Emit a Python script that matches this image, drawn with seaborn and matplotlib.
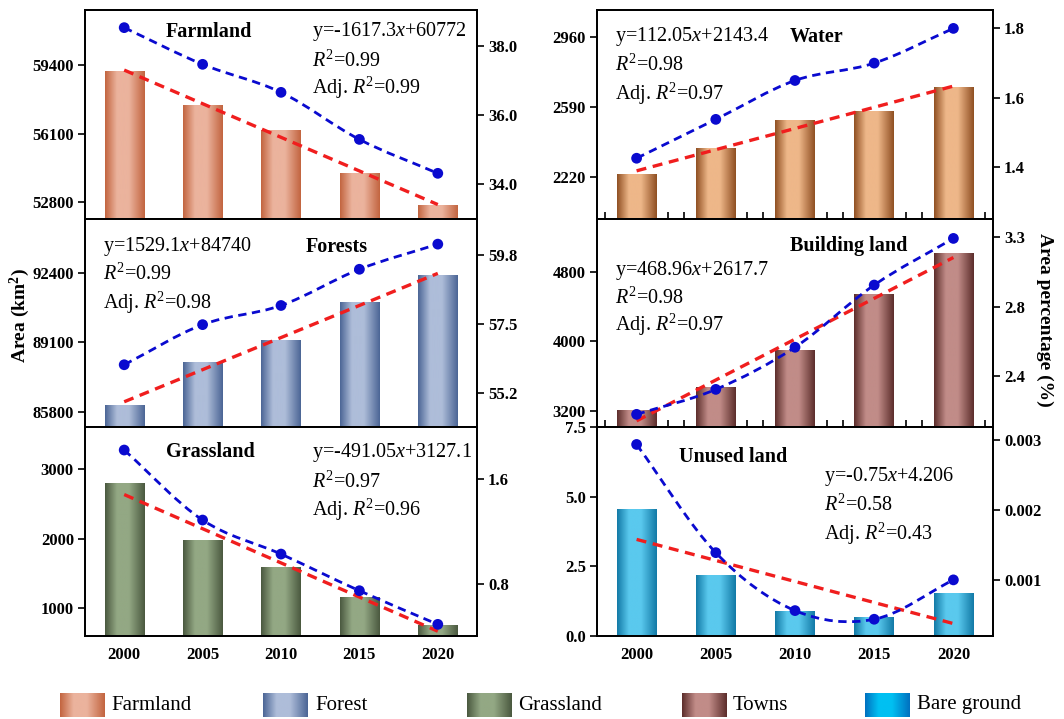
import numpy as np
import pandas as pd
import matplotlib
matplotlib.use("Agg")
import matplotlib.pyplot as plt
import seaborn as sns
from matplotlib.colors import LinearSegmentedColormap
from matplotlib.path import Path
from matplotlib.patches import PathPatch

# ==========================================
# DATA
# ==========================================
YEARS = ["2000", "2005", "2010", "2015", "2020"]

farmland_area = [59097, 57464, 56244, 54179, 52656]
farmland_pct = [38.53, 37.47, 36.66, 35.30, 34.32]

water_area = [2236, 2371, 2518, 2570, 2696]
water_pct = [1.426, 1.538, 1.650, 1.700, 1.800]

forest_area = [86086, 88127, 89162, 90969, 92271]
forest_pct = [56.13, 57.47, 58.11, 59.32, 60.16]

building_area = [3200, 3465, 3896, 4543, 5012]
building_pct = [2.179, 2.323, 2.566, 2.925, 3.194]

grass_area = [2795, 1976, 1584, 1148, 756]
grass_pct = [1.824, 1.289, 1.029, 0.749, 0.492]

unused_area = [4.55, 2.17, 0.87, 0.66, 1.53]
unused_pct = [0.00294, 0.00139, 0.00056, 0.000436, 0.00100]

panel_titles = ["Farmland", "Water", "Forests", "Building land", "Grassland", "Unused land"]
fit_equations = ["y=-1617.3$x$+60772", "y=112.05$x$+2143.4", "y=1529.1$x$+84740",
                 "y=468.96$x$+2617.7", "y=-491.05$x$+3127.1", "y=-0.75$x$+4.206"]
r2_values = ["0.99", "0.98", "0.99", "0.98", "0.97", "0.58"]
adj_r2_values = ["0.99", "0.97", "0.98", "0.97", "0.96", "0.43"]

legend_labels = ["Farmland", "Forest", "Grassland", "Towns", "Bare ground"]

# ==========================================
# STYLE / LAYOUT
# ==========================================
sns.set_theme(style="ticks")
plt.rcParams["font.family"] = ["Liberation Serif", "DejaVu Serif"]
plt.rcParams["mathtext.fontset"] = "custom"
plt.rcParams["mathtext.rm"] = "Liberation Serif"
plt.rcParams["mathtext.it"] = "Liberation Serif:italic"
plt.rcParams["mathtext.bf"] = "Liberation Serif:bold"
plt.rcParams["axes.edgecolor"] = "black"
plt.rcParams["axes.linewidth"] = 1.3
plt.rcParams["text.color"] = "black"
plt.rcParams["axes.labelcolor"] = "black"
plt.rcParams["xtick.color"] = "black"
plt.rcParams["ytick.color"] = "black"

W, H = 1064, 719
BLUE = "#0A0ACF"
RED = "#F01E1E"
COLS = [(85, 477), (597, 993)]
ROWS = [(10, 219), (219, 427), (427, 636)]

# per panel: data, colours (edge, centre), axis setup, text anchors (axes fraction)
PANELS = [
    dict(area=farmland_area, pct=farmland_pct, col=0, row=0, colors=("#C2643F", "#EBB39D"),
         ylim=(52000, 62050), yticks=[52800, 56100, 59400], yfmt="{:.0f}",
         ylim2=(33.0, 39.04), yticks2=[34, 36, 38], ylab2=None, yfmt2="{:.1f}",
         title_xy=(0.316, 0.895), eq_xy=(0.578, [0.895, 0.756, 0.627])),
    dict(area=water_area, pct=water_pct, col=1, row=0, colors=("#8F4F22", "#EEB789"),
         ylim=(2000, 3104), yticks=[2220, 2590, 2960], yfmt="{:.0f}",
         ylim2=(1.251, 1.853), yticks2=[1.4, 1.6, 1.8], ylab2=None, yfmt2="{:.1f}",
         title_xy=(0.555, 0.872), eq_xy=(0.045, [0.872, 0.737, 0.597])),
    dict(area=forest_area, pct=forest_pct, col=0, row=1, colors=("#4B6595", "#AEBDD9"),
         ylim=(85085, 94942), yticks=[85800, 89100, 92400], yfmt="{:.0f}",
         ylim2=(54.05, 61.0), yticks2=[55.2, 57.5, 59.8], ylab2=None, yfmt2="{:.1f}",
         title_xy=(0.642, 0.867), eq_xy=(0.046, [0.867, 0.734, 0.595])),
    dict(area=building_area, pct=building_pct, col=1, row=1, colors=("#5C2D2B", "#C18C88"),
         ylim=(3012, 5407), yticks=[3200, 4000, 4800], yfmt="{:.0f}",
         ylim2=(2.106, 3.306), yticks2=[2.4, 2.8, 3.2], ylab2=["2.4", "2.8", "3.3"], yfmt2="{:.1f}",
         title_xy=(0.635, 0.87), eq_xy=(0.045, [0.75, 0.62, 0.49])),
    dict(area=grass_area, pct=grass_pct, col=0, row=2, colors=("#4A583F", "#93A884"),
         ylim=(602, 3603), yticks=[1000, 2000, 3000], yfmt="{:.0f}",
         ylim2=(0.403, 2.0), yticks2=[0.8, 1.6], ylab2=None, yfmt2="{:.1f}",
         title_xy=(0.321, 0.879), eq_xy=(0.578, [0.879, 0.738, 0.603])),
    dict(area=unused_area, pct=unused_pct, col=1, row=2, colors=("#1279A6", "#5AC9EE"),
         ylim=(0, 7.5), yticks=[0, 2.5, 5.0, 7.5], yfmt="{:.1f}",
         ylim2=(0.000196, 0.00319), yticks2=[0.001, 0.002, 0.003], ylab2=None, yfmt2="{:.3f}",
         title_xy=(0.343, 0.855), eq_xy=(0.5725, [0.762, 0.627, 0.487])),
]

LEGEND_COLORS = [("#C2643F", "#EBB39D"), ("#4B6595", "#AEBDD9"), ("#4A583F", "#93A884"),
                 ("#5C2D2B", "#C18C88"), ("#0070BF", "#00C0F2")]
LEGEND_X = [(60, 111), (263, 315), (467, 518), (682, 733), (865, 917)]  # patch left, text left

GRAD = np.linspace(0, 1, 256).reshape(1, -1)


def bar_cmap(edge, centre):
    return LinearSegmentedColormap.from_list(
        "bar", [(0.0, edge), (0.3, centre), (0.6, centre), (1.0, edge)])


def smooth_path(xs, ys):
    # Catmull-Rom style bezier through the points (spline-connected line)
    xs = np.asarray(xs, float)
    ys = np.asarray(ys, float)
    mx, my = np.gradient(xs), np.gradient(ys)
    verts = [(xs[0], ys[0])]
    codes = [Path.MOVETO]
    for i in range(len(xs) - 1):
        verts += [(xs[i] + mx[i] / 3, ys[i] + my[i] / 3),
                  (xs[i + 1] - mx[i + 1] / 3, ys[i + 1] - my[i + 1] / 3),
                  (xs[i + 1], ys[i + 1])]
        codes += [Path.CURVE4] * 3
    return Path(verts, codes)


def px_axes(fig, x0, y0, x1, y1):
    return fig.add_axes([x0 / W, 1 - y1 / H, (x1 - x0) / W, (y1 - y0) / H])


def draw_panel(fig, k, p):
    x0, x1 = COLS[p["col"]]
    y0, y1 = ROWS[p["row"]]
    ax = px_axes(fig, x0, y0, x1, y1)
    pos = np.arange(len(YEARS))

    df = pd.DataFrame({"year": YEARS, "area": p["area"]})
    sns.barplot(data=df, x="year", y="area", ax=ax, width=0.5, color=p["colors"][1],
                saturation=1, zorder=2)
    cmap = bar_cmap(*p["colors"])
    for bar in list(ax.patches):
        bx, bw, bh = bar.get_x(), bar.get_width(), bar.get_height()
        bar.set_facecolor("none")
        bar.set_edgecolor("none")
        ax.imshow(GRAD, cmap=cmap, extent=[bx, bx + bw, 0, bh], aspect="auto",
                  zorder=2, clip_path=bar, interpolation="bilinear")

    # linear fit of area (red dashed)
    sns.regplot(x=pos, y=np.asarray(p["area"], float), ax=ax, scatter=False, ci=None,
                truncate=True, line_kws=dict(color=RED, lw=2.4, ls=(0, (3, 2)), zorder=3))

    ax.set_xlim(-0.5, 4.5)
    ax.set_ylim(*p["ylim"])
    ax.set_xlabel("")
    ax.set_ylabel("")
    ax.set_yticks(p["yticks"], [p["yfmt"].format(v) for v in p["yticks"]],
                  fontweight="bold", fontsize=12)
    ax.tick_params(axis="y", direction="out", length=5, width=1.2, pad=3, colors="black")

    if p["row"] == 2:
        ax.set_xticks(pos, YEARS, fontweight="bold", fontsize=12)
        ax.tick_params(axis="x", length=0, pad=8, colors="black")
    else:
        ax.tick_params(axis="x", length=0, labelbottom=False)
        if p["col"] == 1:
            minor = [i + d for i in pos for d in (-0.4, 0.4)]
            ax.set_xticks(minor, minor=True)
            ax.tick_params(axis="x", which="minor", direction="in", length=5,
                           width=1.2, bottom=True, colors="black")

    # area percentage on right axis (blue dashed spline + dots)
    ax2 = ax.twinx()
    ax2.add_patch(PathPatch(smooth_path(pos, p["pct"]), fill=False, edgecolor=BLUE,
                            lw=2.0, ls=(0, (3, 2)), zorder=3))
    sns.scatterplot(x=pos, y=p["pct"], ax=ax2, color=BLUE, s=60, edgecolor="none",
                    zorder=4, legend=False)
    ax2.set_xlim(-0.5, 4.5)
    ax2.set_ylim(*p["ylim2"])
    labels2 = p["ylab2"] or [p["yfmt2"].format(v) for v in p["yticks2"]]
    ax2.set_yticks(p["yticks2"], labels2, fontweight="bold", fontsize=12)
    ax2.tick_params(axis="y", direction="out", length=5, width=1.2, pad=3, colors="black")
    ax2.set_ylabel("")
    for s in ax2.spines.values():
        s.set_linewidth(1.3)

    tx, ty = p["title_xy"]
    ax.text(tx, ty, panel_titles[k], transform=ax.transAxes, ha="center", va="center",
            fontsize=14.5, fontweight="bold", color="black", zorder=6)
    ex, ey = p["eq_xy"]
    ax.text(ex, ey[0], fit_equations[k], transform=ax.transAxes, ha="left", va="center",
            fontsize=14.5, color="black", zorder=6)
    ax.text(ex, ey[1], "$R^2$=" + r2_values[k], transform=ax.transAxes, ha="left",
            va="center", fontsize=14.5, color="black", zorder=6)
    ax.text(ex, ey[2], "Adj. $R^2$=" + adj_r2_values[k], transform=ax.transAxes,
            ha="left", va="center", fontsize=14.5, color="black", zorder=6)


def main():
    fig = plt.figure(figsize=(W / 100, H / 100), dpi=100)

    for k, p in enumerate(PANELS):
        draw_panel(fig, k, p)

    fig.text(20 / W, 1 - 316 / H, r"Area (km$^\mathbf{2}$)", rotation=90, ha="center",
             va="center", fontsize=14, fontweight="bold", color="black")
    fig.text(1045 / W, 1 - 320 / H, "Area percentage (%)", rotation=270, ha="center",
             va="center", fontsize=14, fontweight="bold", color="black")

    # legend with gradient swatches
    for (edge, centre), (px0, tx0), label in zip(LEGEND_COLORS, LEGEND_X, legend_labels):
        lax = px_axes(fig, px0, 693, px0 + 45, 717)
        lax.imshow(GRAD, cmap=bar_cmap(edge, centre), aspect="auto", interpolation="bilinear")
        lax.set_axis_off()
        fig.text(tx0 / W, 1 - 705 / H, label, ha="left", va="center", fontsize=15,
                 color="black")

    fig.savefig("out.png", dpi=100)
    plt.close(fig)


if __name__ == "__main__":
    main()
